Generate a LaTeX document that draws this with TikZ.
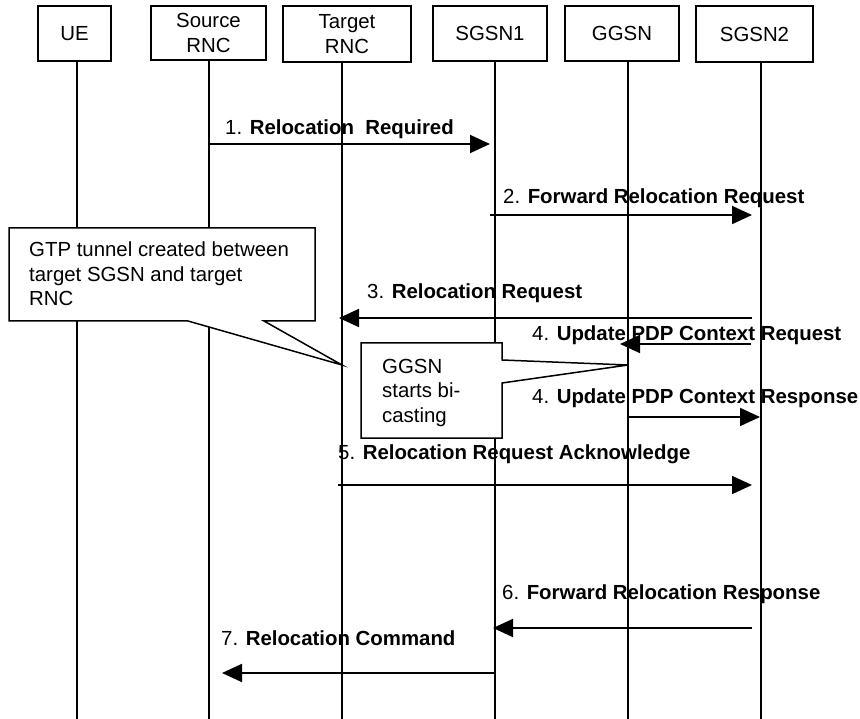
\documentclass[tikz,border=0pt]{standalone}
\usepackage{fontspec}
\setmainfont{Liberation Sans}
\usetikzlibrary{arrows.meta}

\tikzset{
    entity/.style={draw, line width=1.8pt, inner sep=0pt, align=center, font=\fontsize{20.4}{25.5}\selectfont},
    lifeline/.style={line width=1.8pt},
    msg/.style={line width=1.8pt, -{Triangle[length=20pt,width=18pt]}},
    msglabel/.style={anchor=base west, inner sep=0pt, font=\fontsize{20.4}{24.5}\selectfont},
    callout/.style={draw, fill=white, line width=1.5pt, line join=miter},
    callouttext/.style={anchor=north west, inner sep=0pt, align=left, font=\fontsize{20.4}{24.5}\selectfont},
}

\begin{document}
\begin{tikzpicture}[x=1pt, y=-1pt]

    \def\bottom{719}        % lifelines run down to the lower edge

    \useasboundingbox (0,0) rectangle (860,\bottom);

    % network elements
    \node[entity, minimum width=73pt,  minimum height=55pt] (ue)    at (74.5,33.5)  {UE};
    \node[entity, minimum width=115pt, minimum height=54pt] (src)   at (208.5,33)   {Source\\RNC};
    \node[entity, minimum width=128pt, minimum height=56pt] (tgt)   at (347,34)     {Target\\RNC};
    \node[entity, minimum width=114pt, minimum height=55pt] (sgsna) at (490,33.5)   {SGSN1};
    \node[entity, minimum width=114pt, minimum height=55pt] (ggsn)  at (622,33.5)   {GGSN};
    \node[entity, minimum width=117pt, minimum height=56pt] (sgsnb) at (754.5,34)   {SGSN2};

    \foreach \n/\x in {ue/77, src/209, tgt/342, sgsna/495, ggsn/628, sgsnb/761} {
        \coordinate (\n-end) at (\x,\bottom);
        \draw[lifeline] (\n.south -| \n-end) -- (\n-end);
    }

    % notes
    \draw[callout]
        (9,228) -- (315,228) -- (315,321) -- (264,321) -- (342,365) -- (188,321) -- (9,321) -- cycle
    ;
    \node[callouttext] (tunnel) at (29,242) {GTP tunnel created between\\target SGSN and target\\RNC};

    \draw[callout]
        (361,343) -- (502,343) -- (502,360) -- (628,365) -- (502,383) -- (502,438) -- (361,438) -- cycle
    ;
    \node[callouttext] (bicast) at (382,359) {GGSN\\starts bi-\\casting};

    % messages
    \draw[msg, shorten >=5pt] (src-end |- 0,144) -- (sgsna-end |- 0,144);
    \node[msglabel] (m1) at (225,135) {1. \textbf{Relocation\ \ Required}};

    \draw[msg, shorten <=-5pt, shorten >=9pt] (sgsna-end |- 0,215) -- (sgsnb-end |- 0,215);
    \node[msglabel] (m2) at (503,204) {2. \textbf{Forward Relocation Request}};

    \draw[msg, shorten <=9pt, shorten >=-3pt] (sgsnb-end |- 0,318) -- (tgt-end |- 0,318);
    \node[msglabel] (m3) at (367,299) {3. \textbf{Relocation Request}};

    \draw[msg, shorten <=10pt, shorten >=-8pt] (sgsnb-end |- 0,344) -- (ggsn-end |- 0,344);
    \node[msglabel] (m4a) at (532,341) {4. \textbf{Update PDP Context Request}};

    \draw[msg, shorten >=1pt] (ggsn-end |- 0,417) -- (sgsnb-end |- 0,417);
    \node[msglabel] (m4b) at (532,404) {4. \textbf{Update PDP Context Response}};

    \draw[msg, shorten <=-4pt, shorten >=9pt] (tgt-end |- 0,485) -- (sgsnb-end |- 0,485);
    \node[msglabel] (m5) at (338,459) {5. \textbf{Relocation Request Acknowledge}};

    \draw[msg, shorten <=9pt, shorten >=-2pt] (sgsnb-end |- 0,628) -- (sgsna-end |- 0,628);
    \node[msglabel] (m6) at (502,599) {6. \textbf{Forward Relocation Response}};

    \draw[msg, shorten >=13pt] (sgsna-end |- 0,673) -- (src-end |- 0,673);
    \node[msglabel] (m7) at (221,645) {7. \textbf{Relocation Command}};

\end{tikzpicture}
\end{document}
